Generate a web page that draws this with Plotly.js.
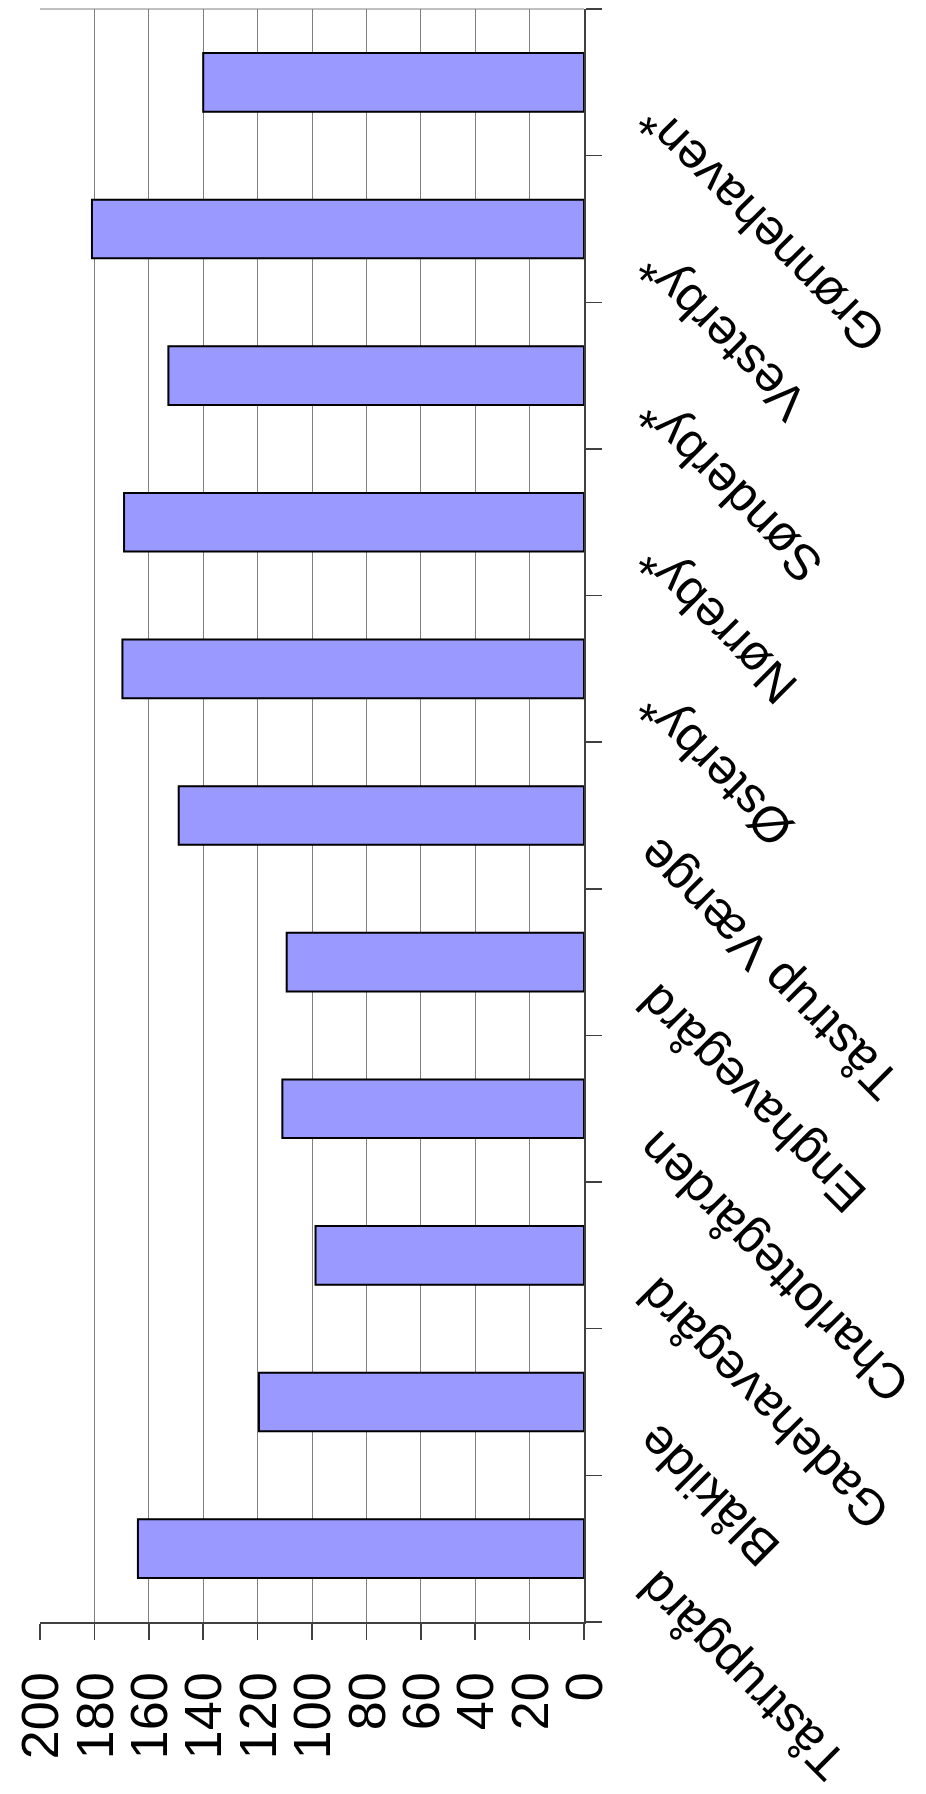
<!DOCTYPE html>
<html>
<head>
<meta charset="utf-8">
<script src="https://cdn.plot.ly/plotly-3.0.1.min.js"></script>
<style>
  html, body { margin: 0; padding: 0; background: #ffffff; overflow: hidden; }
  #chart {
    position: absolute; left: 0; top: 0;
    width: 1794px; height: 926px;
    transform-origin: 0 0;
    transform: translate(0px, 1794px) rotate(-90deg);
  }
</style>
</head>
<body>
<div id="chart"></div>
<script>
const categories = ["Tåstrupgård", "Blåkilde", "Gadehavegård", "Charlottegården", "Enghavegård",
                    "Tåstrup Vænge", "Østerby*", "Nørreby*", "Sønderby*", "Vesterby*", "Grønnehaven*"];
const values = [164, 119.5, 98.7, 110.9, 109.3, 149, 169.7, 169.1, 152.8, 180.9, 140];
const valueTicks = [0, 20, 40, 60, 80, 100, 120, 140, 160, 180, 200];

const font = "Liberation Sans, Arial, sans-serif";

const trace = {
  type: "bar",
  x: categories,
  y: values,
  width: 0.4,
  marker: { color: "#9999FF", line: { color: "#000000", width: 2 } },
  hoverinfo: "x+y"
};

const layout = {
  width: 1794,
  height: 926,
  margin: { l: 172, r: 9, t: 40, b: 342, pad: 0 },
  paper_bgcolor: "#ffffff",
  plot_bgcolor: "#ffffff",
  showlegend: false,
  xaxis: {
    type: "category",
    categoryorder: "array",
    categoryarray: categories,
    tickson: "boundaries",
    ticks: "outside",
    ticklen: 16,
    tickwidth: 1.5,
    tickcolor: "#404040",
    showline: true,
    linecolor: "#404040",
    linewidth: 2,
    showgrid: false,
    tickangle: -45,
    ticklabelshift: -37,
    ticklabelstandoff: 20,
    tickfont: { family: font, size: 50, color: "#000000" }
  },
  yaxis: {
    range: [0, 200],
    tickmode: "array",
    tickvals: valueTicks,
    ticktext: valueTicks.map(String),
    ticks: "outside",
    ticklen: 16,
    tickwidth: 1.5,
    tickcolor: "#404040",
    showline: true,
    linecolor: "#404040",
    linewidth: 2,
    showgrid: true,
    gridcolor: "#808080",
    gridwidth: 1,
    zeroline: false,
    ticklabelstandoff: 22,
    tickfont: { family: font, size: 52, color: "#000000" }
  },
  shapes: [{
    type: "line", xref: "paper", yref: "paper",
    x0: 1, x1: 1, y0: 0, y1: 1,
    line: { color: "#808080", width: 1 }
  }]
};

Plotly.newPlot("chart", [trace], layout, { staticPlot: true, displayModeBar: false });
</script>
</body>
</html>
